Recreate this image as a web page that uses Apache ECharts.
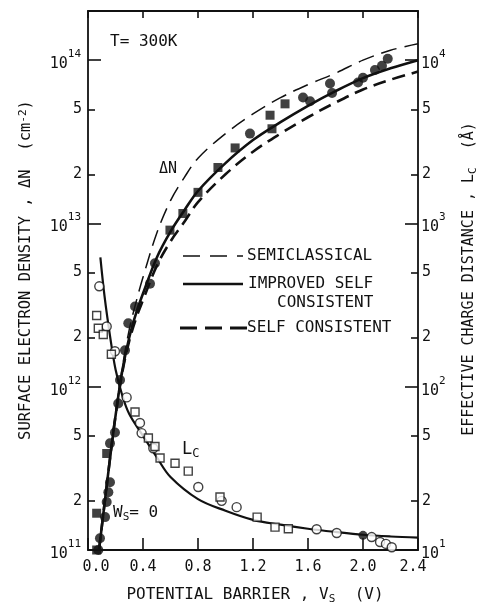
<!DOCTYPE html>
<html><head><meta charset="utf-8">
<script src="https://cdn.jsdelivr.net/npm/echarts@6/dist/echarts.min.js"></script>
<style>html,body{margin:0;padding:0;background:#fff}#c{width:481px;height:606px}</style>
</head><body><div id="c"></div>
<script>
// Surface electron density (cm^-2) versus potential barrier Vs (V)
const semiV = [0.16, 0.2, 0.25, 0.3, 0.35, 0.4, 0.5, 0.6, 0.7, 0.8, 1.0, 1.2, 1.4, 1.6, 1.8, 2.0, 2.2, 2.4];
const semiN = [3.72e11, 6.76e11, 1.32e12, 2.24e12, 3.31e12, 4.68e12, 8.71e12, 1.38e13, 1.91e13, 2.51e13, 3.55e13, 4.68e13, 5.89e13, 7.08e13, 8.32e13, 1.0e14, 1.15e14, 1.26e14];

const improvedV = [0.08, 0.12, 0.16, 0.2, 0.25, 0.3, 0.35, 0.4, 0.5, 0.6, 0.7, 0.8, 1.0, 1.2, 1.4, 1.6, 1.8, 2.0, 2.2, 2.4];
const improvedN = [1.0e11, 1.91e11, 3.63e11, 6.61e11, 1.26e12, 2.0e12, 2.82e12, 3.72e12, 6.17e12, 8.91e12, 1.20e13, 1.58e13, 2.34e13, 3.24e13, 4.17e13, 5.25e13, 6.46e13, 7.76e13, 8.91e13, 1.0e14];

const selfV = [0.08, 0.12, 0.16, 0.2, 0.25, 0.3, 0.35, 0.4, 0.5, 0.6, 0.7, 0.8, 1.0, 1.2, 1.4, 1.6, 1.8, 2.0, 2.2, 2.4];
const selfN = [1.0e11, 1.91e11, 3.63e11, 6.61e11, 1.23e12, 1.91e12, 2.63e12, 3.39e12, 5.5e12, 7.76e12, 1.02e13, 1.35e13, 2.0e13, 2.75e13, 3.55e13, 4.47e13, 5.5e13, 6.61e13, 7.59e13, 8.51e13];

// Effective charge distance Lc (Angstrom)
const lcV = [0.09, 0.12, 0.16, 0.2, 0.25, 0.3, 0.4, 0.5, 0.6, 0.8, 1.0, 1.2, 1.4, 1.6, 1.8, 2.0, 2.2, 2.4];
const lcA = [620, 360, 205, 128, 88, 68, 50, 37, 28, 20.5, 17.4, 15.3, 14.3, 13.5, 12.9, 12.4, 12.1, 11.9];

// Measured points
const dnCircleV = [0.075, 0.087, 0.124, 0.136, 0.148, 0.16, 0.16, 0.196, 0.22, 0.233, 0.269, 0.293, 0.342, 0.451, 0.487, 1.178, 1.564, 1.615, 1.76, 1.775, 1.964, 2.0, 2.087, 2.138, 2.18];
const dnCircleN = [1.0e11, 1.18e11, 1.59e11, 1.97e11, 2.26e11, 2.6e11, 4.5e11, 5.25e11, 7.9e11, 1.1e12, 1.67e12, 2.45e12, 3.1e12, 4.27e12, 5.7e12, 3.55e13, 5.9e13, 5.6e13, 7.2e13, 6.3e13, 7.3e13, 7.8e13, 8.7e13, 9.25e13, 1.02e14];
const dnSquareV = [0.063, 0.063, 0.136, 0.596, 0.69, 0.8, 0.945, 1.07, 1.324, 1.338, 1.433];
const dnSquareN = [1.0e11, 1.68e11, 3.9e11, 9.1e12, 1.15e13, 1.55e13, 2.2e13, 2.9e13, 4.6e13, 3.8e13, 5.4e13];

const lcCircleV = [0.082, 0.136, 0.196, 0.281, 0.378, 0.39, 0.475, 0.802, 0.972, 1.081, 1.663, 1.809, 2.063, 2.124, 2.167, 2.209];
const lcCircleA = [412, 234, 165, 86, 60, 52, 42, 24.3, 20, 18.3, 13.4, 12.7, 12.0, 11.2, 10.9, 10.4];
const lcSquareV = [0.063, 0.075, 0.111, 0.17, 0.342, 0.439, 0.487, 0.524, 0.633, 0.729, 0.96, 1.23, 1.36, 1.457];
const lcSquareA = [273, 228, 209, 158, 70, 48.5, 43, 36.6, 34, 30.4, 21.1, 15.9, 13.8, 13.5];
const lcDotV = [2.0];
const lcDotA = [12.3];

// Axis ticks
const xTicks = [0, 0.4, 0.8, 1.2, 1.6, 2.0, 2.4];
const dnMajor = [1e11, 1e12, 1e13, 1e14];
const dnMinor = [2e11, 5e11, 2e12, 5e12, 2e13, 5e13];
const lcMajor = [10, 100, 1000, 10000];
const lcMinor = [20, 50, 200, 500, 2000, 5000];

const FONT = '"DejaVu Sans Mono", "Liberation Mono", monospace';
const INK = '#111';

const pairs = (xs, ys) => xs.map((x, i) => [x, ys[i]]);
const expLabel = v => '{b|10}{sup|' + Math.round(Math.log10(v)) + '}';
const mantLabel = v => String(Math.round(v / Math.pow(10, Math.floor(Math.log10(v) + 1e-9))));

const expRich = {
  b: { fontFamily: FONT, fontSize: 15, color: INK, padding: [8, 0, 0, 0], verticalAlign: 'bottom' },
  sup: { fontFamily: FONT, fontSize: 11, color: INK, verticalAlign: 'top' }
};

function yAxisPair(pos, min, max, major, minor) {
  const line = { show: true, lineStyle: { color: INK, width: 1.8 } };
  return [
    {
      type: 'log', position: pos, min: min, max: max, logBase: 10,
      axisLine: line, splitLine: { show: false },
      axisTick: { show: true, inside: true, length: 13, customValues: major, lineStyle: { color: INK, width: 1.6 } },
      axisLabel: { show: true, customValues: major, margin: pos === 'left' ? 7 : 3, formatter: expLabel, rich: expRich, color: INK, fontFamily: FONT, fontSize: 15 }
    },
    {
      type: 'log', position: pos, min: min, max: max, logBase: 10,
      axisLine: { show: false }, splitLine: { show: false },
      axisTick: { show: true, inside: true, length: 7, customValues: minor, lineStyle: { color: INK, width: 1.6 } },
      axisLabel: { show: true, customValues: minor, margin: pos === 'left' ? 6 : 4, formatter: mantLabel, color: INK, fontFamily: FONT, fontSize: 15 }
    }
  ];
}

const [dnAxis, dnAxisMinor] = yAxisPair('left', 1e11, 2e14, dnMajor, dnMinor);
const [lcAxis, lcAxisMinor] = yAxisPair('right', 10, 2e4, lcMajor, lcMinor);

const chart = echarts.init(document.getElementById('c'), null, { renderer: 'canvas' });

const lineSeries = (name, xs, ys, yIdx, style) => ({
  name: name, type: 'line', xAxisIndex: 0, yAxisIndex: yIdx, data: pairs(xs, ys),
  symbol: 'none', smooth: 0.35, lineStyle: Object.assign({ color: INK }, style), z: 2, silent: true
});
const pointSeries = (name, xs, ys, yIdx, symbol, size, item) => ({
  name: name, type: 'scatter', xAxisIndex: 0, yAxisIndex: yIdx, data: pairs(xs, ys),
  symbol: symbol, symbolSize: size, itemStyle: item, z: 4, silent: true
});

const solidFill = { color: INK };
const openMark = { color: '#fff', borderColor: INK, borderWidth: 1.4 };

chart.setOption({
  animation: false,
  backgroundColor: '#fff',
  grid: { left: 88, right: 63, top: 11, bottom: 56 },
  xAxis: [
    {
      type: 'value', position: 'bottom', min: 0, max: 2.4, interval: 0.4,
      axisLine: { show: true, lineStyle: { color: INK, width: 1.8 } },
      axisTick: { show: true, inside: true, length: 12, lineStyle: { color: INK, width: 1.6 } },
      splitLine: { show: false },
      axisLabel: {
        show: true, margin: 10, color: INK, fontFamily: FONT, fontSize: 15,
        formatter: v => {
          const t = v.toFixed(1);
          if (v === xTicks[0]) return '{l|' + t + '}';
          if (Math.abs(v - xTicks[xTicks.length - 1]) < 1e-9) return '{r|' + t + '}';
          return t;
        },
        rich: {
          l: { fontFamily: FONT, fontSize: 15, color: INK, padding: [0, 0, 0, 16] },
          r: { fontFamily: FONT, fontSize: 15, color: INK, padding: [0, 10, 0, 0] }
        }
      }
    },
    {
      type: 'value', position: 'top', min: 0, max: 2.4, interval: 0.4,
      axisLine: { show: true, lineStyle: { color: INK, width: 1.8 } },
      axisTick: { show: true, inside: true, length: 7, lineStyle: { color: INK, width: 1.6 } },
      splitLine: { show: false }, axisLabel: { show: false }
    }
  ],
  yAxis: [dnAxis, dnAxisMinor, lcAxis, lcAxisMinor],
  series: [
    lineSeries('Semiclassical', semiV, semiN, 0, { width: 1.5, type: [16, 8] }),
    lineSeries('Self consistent', selfV, selfN, 0, { width: 2.6, type: [13, 7] }),
    lineSeries('Improved self consistent', improvedV, improvedN, 0, { width: 2.6 }),
    lineSeries('Lc', lcV, lcA, 2, { width: 2.2 }),
    pointSeries('ΔN circles', dnCircleV, dnCircleN, 0, 'circle', 10, solidFill),
    pointSeries('ΔN squares', dnSquareV, dnSquareN, 0, 'rect', 9, solidFill),
    pointSeries('Lc circles', lcCircleV, lcCircleA, 2, 'circle', 9, openMark),
    pointSeries('Lc squares', lcSquareV, lcSquareA, 2, 'rect', 8, openMark),
    pointSeries('Lc dot', lcDotV, lcDotA, 2, 'circle', 9, solidFill)
  ],
  graphic: [
    // axis titles
    {
      type: 'text', x: 26, y: 270, rotation: Math.PI / 2, silent: true,
      style: {
        text: 'SURFACE ELECTRON DENSITY , ΔN  (cm{sup|-2})', align: 'center', verticalAlign: 'middle',
        fontFamily: FONT, fontSize: 15.5, fill: INK,
        rich: { sup: { fontFamily: FONT, fontSize: 11, fill: INK, verticalAlign: 'top' } }
      }
    },
    {
      type: 'text', x: 469, y: 279, rotation: Math.PI / 2, silent: true,
      style: {
        text: 'EFFECTIVE CHARGE DISTANCE , L{sub|C}  (Å)', align: 'center', verticalAlign: 'middle',
        fontFamily: FONT, fontSize: 15, fill: INK,
        rich: { sub: { fontFamily: FONT, fontSize: 11, fill: INK, verticalAlign: 'bottom', padding: [8, 0, 0, 0] } }
      }
    },
    {
      type: 'text', x: 255, y: 595, silent: true,
      style: {
        text: 'POTENTIAL BARRIER , V{sub|S}  (V)', align: 'center', verticalAlign: 'middle',
        fontFamily: FONT, fontSize: 16, fill: INK,
        rich: { sub: { fontFamily: FONT, fontSize: 11, fill: INK, verticalAlign: 'bottom', padding: [8, 0, 0, 0] } }
      }
    },
    // annotations
    { type: 'text', x: 110, y: 42, silent: true, style: { text: 'T= 300K', align: 'left', verticalAlign: 'middle', fontFamily: FONT, fontSize: 16, fill: INK } },
    { type: 'text', x: 168, y: 169, silent: true, style: { text: 'ΔN', align: 'center', verticalAlign: 'middle', fontFamily: FONT, fontSize: 15, fill: INK } },
    {
      type: 'text', x: 182, y: 450, silent: true,
      style: {
        text: 'L{sub|C}', align: 'left', verticalAlign: 'middle', fontFamily: FONT, fontSize: 17, fill: INK,
        rich: { sub: { fontFamily: FONT, fontSize: 12, fill: INK, verticalAlign: 'bottom', padding: [8, 0, 0, 0] } }
      }
    },
    {
      type: 'text', x: 113, y: 513, silent: true,
      style: {
        text: 'W{sub|S}= 0', align: 'left', verticalAlign: 'middle', fontFamily: FONT, fontSize: 16, fill: INK,
        rich: { sub: { fontFamily: FONT, fontSize: 11, fill: INK, verticalAlign: 'bottom', padding: [8, 0, 0, 0] } }
      }
    },
    // key
    { type: 'line', silent: true, shape: { x1: 183, y1: 256, x2: 243, y2: 256 }, style: { stroke: INK, lineWidth: 1.5, lineDash: [17, 10] } },
    { type: 'text', x: 247, y: 256, silent: true, style: { text: 'SEMICLASSICAL', align: 'left', verticalAlign: 'middle', fontFamily: FONT, fontSize: 16, fill: INK } },
    { type: 'line', silent: true, shape: { x1: 183, y1: 284, x2: 243, y2: 284 }, style: { stroke: INK, lineWidth: 2.6 } },
    { type: 'text', x: 248, y: 284, silent: true, style: { text: 'IMPROVED SELF', align: 'left', verticalAlign: 'middle', fontFamily: FONT, fontSize: 16, fill: INK } },
    { type: 'text', x: 277, y: 303, silent: true, style: { text: 'CONSISTENT', align: 'left', verticalAlign: 'middle', fontFamily: FONT, fontSize: 16, fill: INK } },
    { type: 'line', silent: true, shape: { x1: 180, y1: 328, x2: 247, y2: 328 }, style: { stroke: INK, lineWidth: 2.8, lineDash: [17, 8] } },
    { type: 'text', x: 247, y: 328, silent: true, style: { text: 'SELF CONSISTENT', align: 'left', verticalAlign: 'middle', fontFamily: FONT, fontSize: 16, fill: INK } }
  ]
});
</script>
</body></html>
